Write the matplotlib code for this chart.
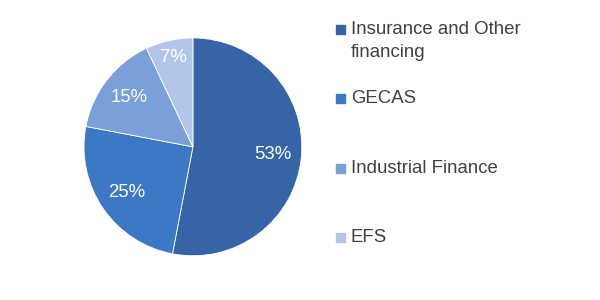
import matplotlib.pyplot as plt

plt.rcParams["font.family"] = ["Liberation Sans", "DejaVu Sans"]

labels = ["Insurance and Other\nfinancing", "GECAS", "Industrial Finance", "EFS"]
shares = [53, 25, 15, 7]
colors = ["#3664a6", "#3d78c5", "#7a9fd9", "#b3c5e8"]


def main():
    fig = plt.figure(figsize=(6, 3), dpi=100)
    ax = fig.add_axes([0.14, 0.147, 0.363, 0.727])
    wedges, texts, autotexts = ax.pie(
        shares, colors=colors, startangle=90, counterclock=False,
        autopct=lambda v: f"{round(v)}%", pctdistance=0.74, radius=1,
        wedgeprops=dict(edgecolor="white", linewidth=0.6),
        textprops=dict(color="white", fontsize=13.4))
    # smallest slice label sits a little further out
    x, y = autotexts[-1].get_position()
    autotexts[-1].set_position((x * 0.84 / 0.74, y * 0.84 / 0.74))
    ax.set_xlim(-1, 1)
    ax.set_ylim(-1, 1)
    ax.set_aspect("equal")

    # legend drawn by hand to keep the marker on the first line
    for i, (lab, col) in enumerate(zip(labels, colors)):
        yc = 0.903 - i * 0.2317
        fig.patches.append(plt.Rectangle((0.56, yc - 0.015), 0.015, 0.03,
                                         transform=fig.transFigure,
                                         color=col))
        first, *rest = lab.split("\n")
        fig.text(0.585, yc, first, fontsize=13.4, color="#404040", va="center")
        for j, line in enumerate(rest):
            fig.text(0.585, yc - 0.077 * (j + 1), line, fontsize=13.4,
                     color="#404040", va="center")

    fig.savefig("out.png", dpi=100)


if __name__ == "__main__":
    main()
